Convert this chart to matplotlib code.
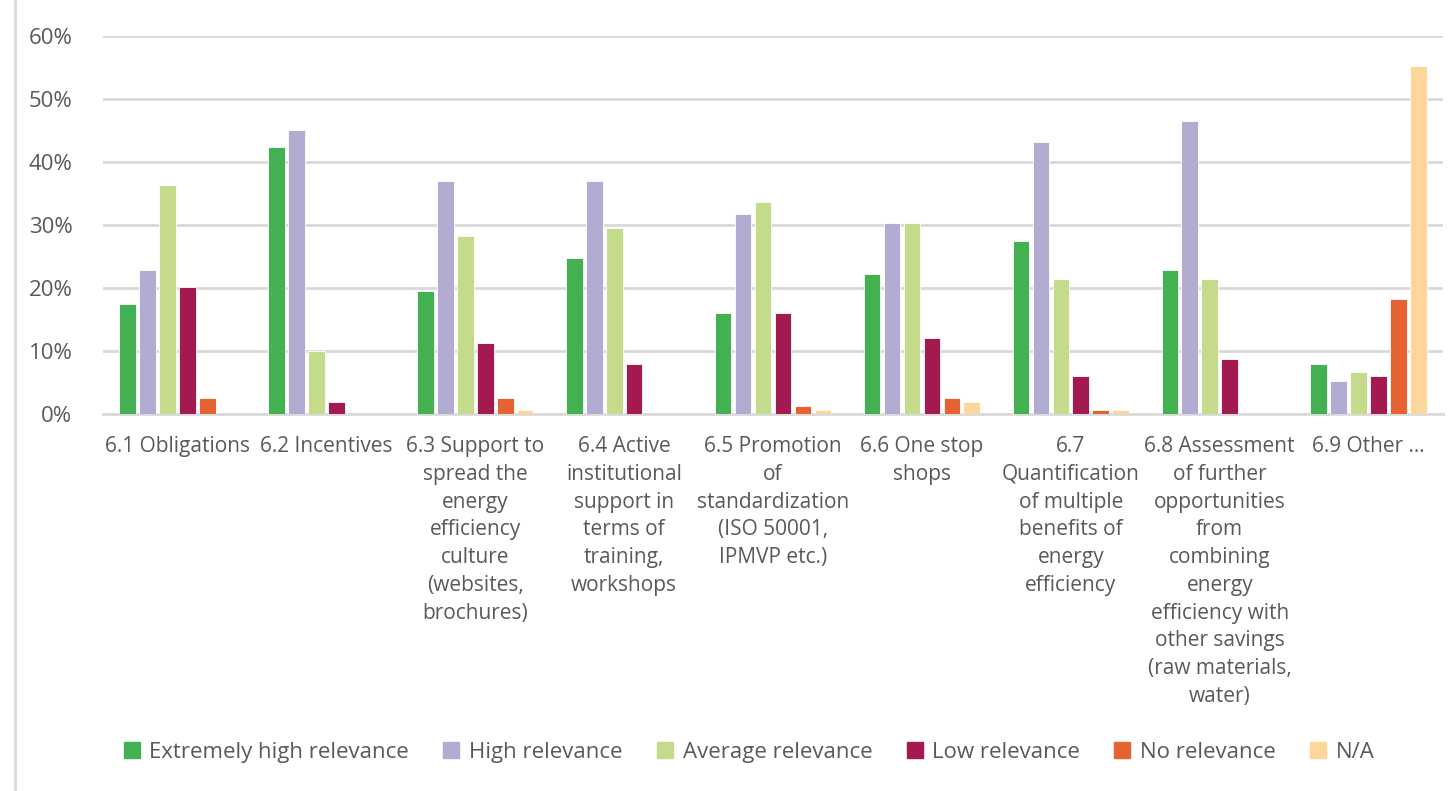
import matplotlib.pyplot as plt
import numpy as np
from matplotlib.lines import Line2D

categories = [
    "6.1 Obligations",
    "6.2 Incentives",
    "6.3 Support to\nspread the\nenergy\nefficiency\nculture\n(websites,\nbrochures)",
    "6.4 Active\ninstitutional\nsupport in\nterms of\ntraining,\nworkshops",
    "6.5 Promotion\nof\nstandardization\n(ISO 50001,\nIPMVP etc.)",
    "6.6 One stop\nshops",
    "6.7\nQuantification\nof multiple\nbenefits of\nenergy\nefficiency",
    "6.8 Assessment\nof further\nopportunities\nfrom\ncombining\nenergy\nefficiency with\nother savings\n(raw materials,\nwater)",
    "6.9 Other ...",
]

series_names = ["Extremely high relevance", "High relevance", "Average relevance",
                "Low relevance", "No relevance", "N/A"]

extremely_high = [17.4, 42.4, 19.5, 24.8, 16.1, 22.2, 27.5, 22.8, 8.0]
high = [22.8, 45.1, 37.0, 37.0, 31.7, 30.3, 43.1, 46.5, 5.3]
average = [36.4, 10.0, 28.2, 29.6, 33.7, 30.3, 21.5, 21.5, 6.6]
low = [20.2, 1.9, 11.3, 8.0, 16.1, 12.0, 6.0, 8.7, 6.0]
no_rel = [2.6, 0, 2.6, 0, 1.2, 2.6, 0.6, 0, 18.2]
na = [0, 0, 0.6, 0, 0.6, 1.9, 0.6, 0, 55.3]

colors = ["#43B052", "#B0ACD2", "#C5DB8C", "#A31A51", "#E56231", "#FED69A"]
all_series = [extremely_high, high, average, low, no_rel, na]

plt.rcParams['font.family'] = ['Open Sans', 'DejaVu Sans']
txt = "#595959"

fig = plt.figure(figsize=(14.55, 7.91), dpi=100)
ax = fig.add_axes([0.0708, 0.4766, 0.9210, 0.4779])

x = np.arange(len(categories))
pitch = 0.134
width = 0.112
for i, (vals, c) in enumerate(zip(all_series, colors)):
    off = (i - 2.5) * pitch
    ax.bar(x + off, vals, width=width, color=c, edgecolor="white", linewidth=0.6,
           zorder=3, label=series_names[i])

ax.set_xlim(-0.5, len(categories) - 0.5)
ax.set_ylim(0, 60)
ax.set_yticks(range(0, 61, 10))
ax.set_yticklabels([f"{v}%" for v in range(0, 61, 10)], fontsize=16, color=txt)
ax.set_xticks(x)
ax.set_xticklabels(categories, fontsize=15, color=txt, linespacing=1.42, va="top")
ax.tick_params(axis="both", length=0)
ax.tick_params(axis="x", pad=16)
ax.tick_params(axis="y", pad=22)
ax.yaxis.grid(True, color="#D9D9D9", linewidth=2, zorder=0)
for s in ["top", "right", "left"]:
    ax.spines[s].set_visible(False)
ax.spines["bottom"].set_color("#D9D9D9")
ax.spines["bottom"].set_linewidth(2)

handles = [Line2D([], [], marker="s", linestyle="none", markersize=11,
                  markerfacecolor=c, markeredgecolor=c) for c in colors]
fig.legend(handles, series_names, loc="center", bbox_to_anchor=(0.515, 0.049),
           ncol=6, frameon=False, fontsize=16, handlelength=0.7, handletextpad=0.45,
           columnspacing=1.55, labelcolor=txt)

fig.add_artist(Line2D([0.0103, 0.0103], [0, 1], color="#D9D9D9", linewidth=2,
                      transform=fig.transFigure))

fig.savefig("out.png", dpi=100, facecolor="white")
